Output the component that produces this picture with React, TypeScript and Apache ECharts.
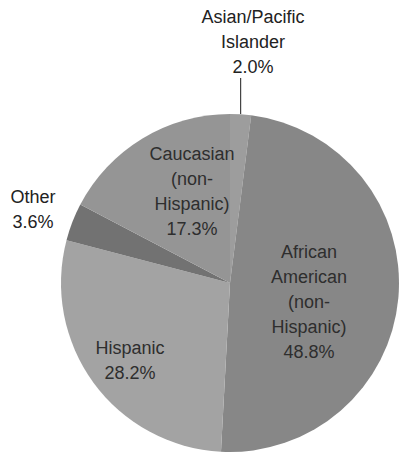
import { useEffect, useRef } from "react";
import * as echarts from "echarts";

const categories = [
  "Asian/Pacific Islander",
  "African American (non-Hispanic)",
  "Hispanic",
  "Other",
  "Caucasian (non-Hispanic)",
];
const labelNames = [
  "Asian/Pacific\nIslander",
  "African\nAmerican\n(non-\nHispanic)",
  "Hispanic",
  "Other",
  "Caucasian\n(non-\nHispanic)",
];
const values = [2.0, 48.8, 28.2, 3.6, 17.3];

const colors = ["#9d9d9d", "#878787", "#a3a3a3", "#727272", "#959595"];
const CX = 230;
const CY = 283;
const R = 169;
// label offsets relative to pie centre
const labelOffsets: [number, number][] = [
  [23, -241],
  [79, 19],
  [-100, 77],
  [-197, -74],
  [-38, -92],
];
const outside = [true, false, false, true, false];

export default function App() {
  const ref = useRef<HTMLDivElement>(null);
  useEffect(() => {
    document.body.style.margin = "0";
    if (!ref.current) return;
    const chart = echarts.init(ref.current, null, { renderer: "svg" });
    chart.setOption({
      animation: false,
      backgroundColor: "#ffffff",
      series: [
        {
          type: "pie",
          center: [CX, CY],
          radius: R,
          startAngle: 90,
          clockwise: true,
          silent: true,
          emphasis: { disabled: true },
          itemStyle: { borderWidth: 0 },
          label: {
            fontFamily: "Liberation Sans",
            fontSize: 18,
            lineHeight: 25,
            align: "center",
            color: "#2a2a2a",
            overflow: "none",
          },
          data: categories.map((name, i) => ({
            name,
            value: values[i],
            itemStyle: { color: colors[i] },
            label: {
              show: true,
              position: outside[i] ? "outside" : "inside",
              formatter: `${labelNames[i]}\n${values[i].toFixed(1)}%`,
              color: outside[i] ? "#222222" : "#2e2e2e",
              overflow: "none",
            },
            labelLine: {
              show: i === 0,
              length: 20,
              length2: 0,
              lineStyle: { color: "#444444", width: 1.2 },
            },
          })),
          labelLayout: (params: any) => {
            const i = params.dataIndex;
            const [dx, dy] = labelOffsets[i];
            const res: any = {
              x: CX + dx,
              y: CY + dy,
              align: "center",
              verticalAlign: "middle",
            };
            if (i === 0) {
              const lx = CX + R * Math.sin((values[0] / 2 / 100) * 2 * Math.PI);
              res.labelLinePoints = [
                [lx, CY - R],
                [lx, CY - R - 18],
                [lx, CY - R - 36],
              ];
            }
            return res;
          },
        },
      ],
    });
    return () => chart.dispose();
  }, []);
  return <div ref={ref} style={{ width: 400, height: 455 }} />;
}
